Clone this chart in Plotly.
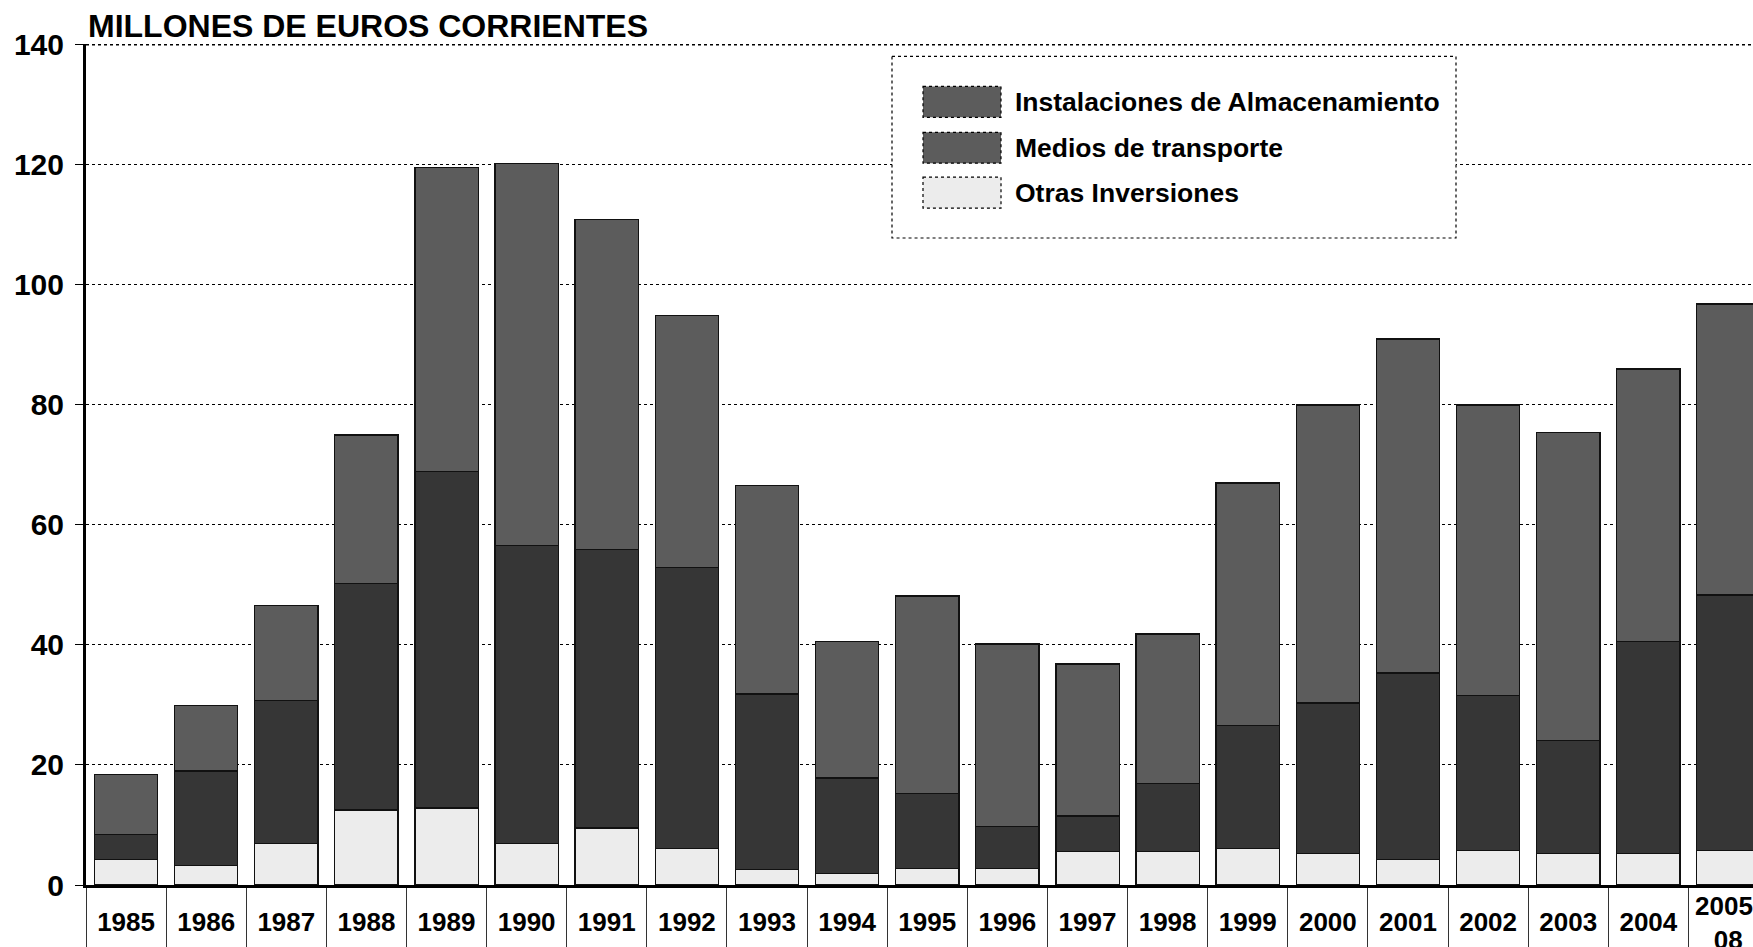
import plotly.graph_objects as go

# ---- data (millones de euros corrientes) ----
categories = ["1985", "1986", "1987", "1988", "1989", "1990", "1991", "1992", "1993", "1994",
              "1995", "1996", "1997", "1998", "1999", "2000", "2001", "2002", "2003", "2004", "2005-08"]
otras = [4.3, 3.2, 6.9, 12.5, 12.8, 6.9, 9.5, 6.1, 2.6, 1.9, 2.8, 2.8, 5.6, 5.6, 6.1, 5.2, 4.3, 5.8, 5.2, 5.2, 5.8]
medios = [4.1, 15.8, 23.8, 37.7, 56.0, 49.6, 46.3, 46.7, 29.2, 15.9, 12.4, 6.9, 5.9, 11.3, 20.5, 25.1, 31.0, 25.8, 18.8, 35.3, 42.5]
instalaciones = [10.0, 10.9, 15.8, 24.7, 50.7, 63.6, 55.0, 42.0, 34.7, 22.7, 32.9, 30.4, 25.3, 24.9, 40.3, 49.6, 55.6, 48.3, 51.3, 45.4, 48.4]
series_names = ["Instalaciones de Almacenamiento", "Medios de transporte", "Otras Inversiones"]
y_ticks = [0, 20, 40, 60, 80, 100, 120, 140]
title_text = "MILLONES DE EUROS CORRIENTES"

# ---- styling ----
FONT = "Liberation Sans, Arial, sans-serif"
C_LIGHT = "#ececec"
C_DARK = "#363636"
C_MID = "#5c5c5c"
W, H = 1753, 947
L, R, T, B = 86, 0, 43.5, 60.4
PW, PH = W - L - R, H - T - B


def px(x):
    return (x - L) / PW


def py(y):
    return (H - B - y) / PH


fig = go.Figure()
line = dict(color="#111", width=1.3)
fig.add_trace(go.Bar(x=categories, y=otras, name=series_names[2], marker=dict(color=C_LIGHT, line=line), showlegend=False))
fig.add_trace(go.Bar(x=categories, y=medios, name=series_names[1], marker=dict(color=C_DARK, line=line), showlegend=False))
fig.add_trace(go.Bar(x=categories, y=instalaciones, name=series_names[0], marker=dict(color=C_MID, line=line), showlegend=False))

ticktext = categories[:-1] + [""]
n_visible = (W - L) / 80.12

shapes = [
    # top border of plot area
    dict(type="line", xref="paper", yref="y", x0=0, x1=1, y0=140, y1=140,
         line=dict(color="#000", width=3, dash="dot")),
    # legend box
    dict(type="rect", xref="paper", yref="paper", x0=px(892), x1=px(1456), y0=py(56), y1=py(238),
         fillcolor="white", line=dict(color="#000", width=1.2, dash="dot")),
]
legend_colors = [C_MID, C_MID, C_LIGHT]
sw_tops = [86, 132, 177]
annotations = []
for i, (nm, col, top) in enumerate(zip(series_names, legend_colors, sw_tops)):
    shapes.append(dict(type="rect", xref="paper", yref="paper", x0=px(923), x1=px(1001),
                       y0=py(top), y1=py(top + 31), fillcolor=col,
                       line=dict(color="#000", width=1.2, dash="dot")))
    annotations.append(dict(text=nm, xref="paper", yref="paper", x=px(1013), y=py(top + 15.5),
                            xanchor="left", yanchor="middle", showarrow=False,
                            font=dict(family=FONT, size=26.5, color="#000", weight="bold")))

annotations.append(dict(text=title_text, xref="paper", yref="paper", x=px(86), y=1,
                        xanchor="left", yanchor="bottom", showarrow=False, yshift=-2,
                        font=dict(family=FONT, size=32, color="#000", weight="bold")))
# wrapped last category label
annotations.append(dict(text=categories[-1].replace("-", "-<br>"), xref="x", yref="paper",
                        x=categories[-1], y=py(925), xanchor="center", yanchor="middle",
                        showarrow=False, align="center",
                        font=dict(family=FONT, size=26, color="#000", weight="bold")))

fig.update_layout(
    width=W, height=H,
    margin=dict(l=L, r=R, t=T, b=B, pad=0),
    paper_bgcolor="white", plot_bgcolor="white",
    barmode="stack", bargap=0.21,
    showlegend=False,
    shapes=shapes, annotations=annotations,
    font=dict(family=FONT, color="#000"),
)
fig.update_xaxes(
    type="category", range=[-0.5, -0.5 + n_visible],
    tickvals=categories, ticktext=ticktext,
    showline=True, linecolor="#000", linewidth=3,
    ticks="outside", tickson="boundaries", ticklen=62, tickcolor="#333", tickwidth=1,
    ticklabelstandoff=12,
    tickfont=dict(family=FONT, size=26, color="#000", weight="bold"),
    showgrid=False, zeroline=False,
)
fig.update_yaxes(
    range=[0, 140], tickvals=y_ticks,
    showline=True, linecolor="#000", linewidth=3,
    ticks="outside", ticklen=8, tickcolor="#000", tickwidth=1,
    showgrid=True, gridcolor="#000", gridwidth=1, griddash="dot",
    zeroline=False,
    tickfont=dict(family=FONT, size=30, color="#000", weight="bold"),
    ticklabelstandoff=5,
)

fig.write_html("out.html", config={"displayModeBar": False},
               post_script="document.body.style.margin='0';document.body.style.overflow='hidden';")
